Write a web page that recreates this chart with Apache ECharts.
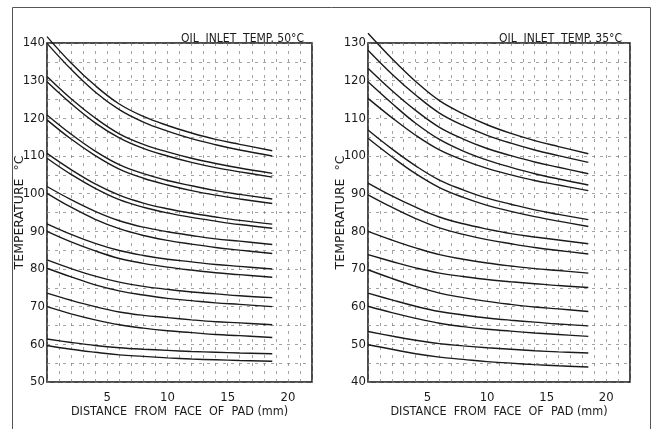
<!DOCTYPE html>
<html>
<head>
<meta charset="utf-8">
<script src="https://cdn.jsdelivr.net/npm/echarts@6/dist/echarts.min.js"></script>
<style>
  html, body { margin: 0; padding: 0; background: #fff; }
  #chart { width: 652px; height: 429px; }
</style>
</head>
<body>
<div id="chart"></div>
<script>
// Temperature vs distance from face of pad, two oil inlet temperatures.
// Values (°C at the listed distances, mm).

const distLeft = [0, 2, 4, 6, 8, 10, 12, 14, 16, 18.7];
const distRight = [0, 2, 4, 6, 8, 10, 12, 14, 16, 18.5];

// Oil inlet 50 °C — 18 curves (in pairs)
const tempsInlet50 = [
  [141.7, 134.7, 128.7, 123.8, 120.5, 118.1, 116.1, 114.4, 113.1, 111.4],
  [139.9, 133.0, 127.0, 122.3, 119.0, 116.6, 114.6, 113.0, 111.6, 110.0],
  [131.1, 125.2, 120.1, 115.9, 113.1, 111.1, 109.4, 108.0, 106.8, 105.4],
  [129.7, 123.9, 118.8, 114.8, 112.0, 110.0, 108.3, 106.9, 105.8, 104.4],
  [120.9, 115.8, 111.3, 107.7, 105.3, 103.5, 102.1, 100.8, 99.8, 98.6],
  [119.6, 114.5, 110.1, 106.5, 104.1, 102.3, 100.8, 99.6, 98.6, 97.4],
  [110.7, 106.4, 102.6, 99.6, 97.5, 96.0, 94.8, 93.8, 92.9, 91.9],
  [109.4, 105.1, 101.4, 98.4, 96.4, 94.9, 93.7, 92.7, 91.8, 90.8],
  [101.9, 98.4, 95.3, 92.8, 91.1, 89.9, 88.9, 88.0, 87.4, 86.5],
  [100.1, 96.4, 93.2, 90.7, 88.9, 87.6, 86.6, 85.7, 85.0, 84.1],
  [92.0, 89.2, 86.8, 84.9, 83.6, 82.6, 81.9, 81.2, 80.7, 80.0],
  [90.0, 87.2, 84.8, 82.8, 81.5, 80.5, 79.7, 79.0, 78.5, 77.8],
  [82.4, 80.1, 78.1, 76.5, 75.4, 74.6, 73.9, 73.4, 72.9, 72.4],
  [80.2, 77.9, 75.8, 74.2, 73.1, 72.2, 71.6, 71.0, 70.6, 70.0],
  [73.6, 71.7, 70.0, 68.6, 67.7, 67.1, 66.5, 66.0, 65.7, 65.2],
  [70.0, 68.1, 66.5, 65.2, 64.3, 63.6, 63.1, 62.6, 62.3, 61.8],
  [61.4, 60.5, 59.7, 59.1, 58.7, 58.4, 58.1, 57.9, 57.7, 57.5],
  [59.7, 58.7, 57.9, 57.2, 56.8, 56.4, 56.1, 55.9, 55.7, 55.5],
];

// Oil inlet 35 °C — 16 curves
const tempsInlet35 = [
  [132.6, 125.9, 119.8, 114.7, 111.2, 108.3, 106.0, 104.1, 102.5, 100.6],
  [128.1, 121.8, 116.2, 111.4, 108.1, 105.5, 103.4, 101.6, 100.1, 98.3],
  [123.3, 117.4, 112.1, 107.6, 104.5, 102.0, 100.1, 98.4, 97.0, 95.3],
  [119.7, 114.0, 108.7, 104.4, 101.3, 98.9, 97.0, 95.3, 93.9, 92.3],
  [115.3, 110.2, 105.5, 101.6, 98.9, 96.7, 95.0, 93.5, 92.3, 90.8],
  [106.9, 101.9, 97.4, 93.6, 91.0, 88.8, 87.2, 85.7, 84.5, 83.1],
  [104.7, 99.8, 95.3, 91.6, 89.0, 86.9, 85.3, 83.9, 82.7, 81.3],
  [92.8, 89.4, 86.4, 83.8, 82.0, 80.6, 79.4, 78.5, 77.7, 76.7],
  [89.7, 86.4, 83.4, 80.9, 79.2, 77.8, 76.7, 75.7, 74.9, 74.0],
  [80.0, 77.7, 75.6, 73.8, 72.6, 71.6, 70.8, 70.1, 69.6, 68.9],
  [73.8, 72.0, 70.3, 68.9, 68.0, 67.2, 66.6, 66.1, 65.6, 65.1],
  [69.8, 67.5, 65.4, 63.6, 62.4, 61.4, 60.6, 59.9, 59.4, 58.7],
  [63.6, 61.8, 60.1, 58.7, 57.8, 57.0, 56.4, 55.9, 55.4, 54.9],
  [60.1, 58.4, 56.9, 55.6, 54.7, 54.0, 53.5, 53.0, 52.6, 52.1],
  [53.4, 52.2, 51.1, 50.2, 49.6, 49.1, 48.7, 48.3, 48.0, 47.7],
  [49.9, 48.7, 47.5, 46.6, 46.0, 45.4, 45.0, 44.6, 44.3, 44.0],
];

const titles = ["OIL  INLET  TEMP. 50°C", "OIL  INLET  TEMP. 35°C"];
const xName = "DISTANCE  FROM  FACE  OF  PAD (mm)";
const yName = "TEMPERATURE  °C";

const FONT = "'DejaVu Sans Condensed', 'DejaVu Sans', sans-serif";
const INK = "#1a1a1a";
const GRID_LINE = { color: "#7a7a7a", width: 1, type: [3, 5], opacity: 0.7 };

function xAxis(gridIndex) {
  return {
    type: "value", gridIndex, min: 0, max: 22, interval: 1,
    name: xName, nameLocation: "middle", nameGap: 23, nameMoveOverlap: false,
    nameTextStyle: { fontFamily: FONT, fontSize: 12.5, color: INK },
    axisLine: { show: false }, axisTick: { show: false },
    axisLabel: {
      margin: 9, fontFamily: FONT, fontSize: 13, color: INK,
      formatter: (v) => (v > 0 && v % 5 === 0 ? String(v) : ""),
    },
    splitLine: { show: true, lineStyle: GRID_LINE },
  };
}

function yAxis(gridIndex, min, max) {
  return {
    type: "value", gridIndex, min, max, interval: 5,
    name: yName, nameLocation: "middle", nameGap: 21, nameRotate: 90,
    nameMoveOverlap: false,
    nameTextStyle: { fontFamily: "'DejaVu Sans', sans-serif", fontSize: 12.5, color: INK },
    axisLine: { show: false }, axisTick: { show: false },
    axisLabel: {
      margin: 2, fontFamily: FONT, fontSize: 13, color: INK,
      formatter: (v) => (v % 10 === 0 ? String(v) : ""),
    },
    splitLine: { show: true, lineStyle: GRID_LINE },
  };
}

function curves(xs, table, axisIndex) {
  return table.map((temps) => ({
    type: "line",
    xAxisIndex: axisIndex, yAxisIndex: axisIndex,
    data: xs.map((x, i) => [x, temps[i]]),
    smooth: 0.4,
    symbol: "none", clip: false, silent: true,
    lineStyle: { color: INK, width: 1.4 },
  }));
}

const chart = echarts.init(document.getElementById("chart"), null, { renderer: "canvas" });
chart.setOption({
  backgroundColor: "#ffffff",
  animation: false,
  title: [
    { text: titles[0], right: 343, top: 28,
      textStyle: { fontFamily: FONT, fontSize: 12, fontWeight: "normal", color: INK } },
    { text: titles[1], right: 25, top: 28,
      textStyle: { fontFamily: FONT, fontSize: 12, fontWeight: "normal", color: INK } },
  ],
  grid: [
    { left: 47, top: 43, width: 265, height: 339, show: true,
      borderColor: "#111", borderWidth: 1.5, backgroundColor: "transparent" },
    { left: 368, top: 43, width: 262, height: 339, show: true,
      borderColor: "#111", borderWidth: 1.5, backgroundColor: "transparent" },
  ],
  xAxis: [xAxis(0), xAxis(1)],
  yAxis: [yAxis(0, 50, 140), yAxis(1, 40, 130)],
  series: [...curves(distLeft, tempsInlet50, 0), ...curves(distRight, tempsInlet35, 1)],
  graphic: [
    { type: "polyline", silent: true,
      shape: { points: [[12.5, 440], [12.5, 7.5], [650.5, 7.5], [650.5, 440]] },
      style: { stroke: "#555", lineWidth: 1, fill: null } },
  ],
});
</script>
</body>
</html>
